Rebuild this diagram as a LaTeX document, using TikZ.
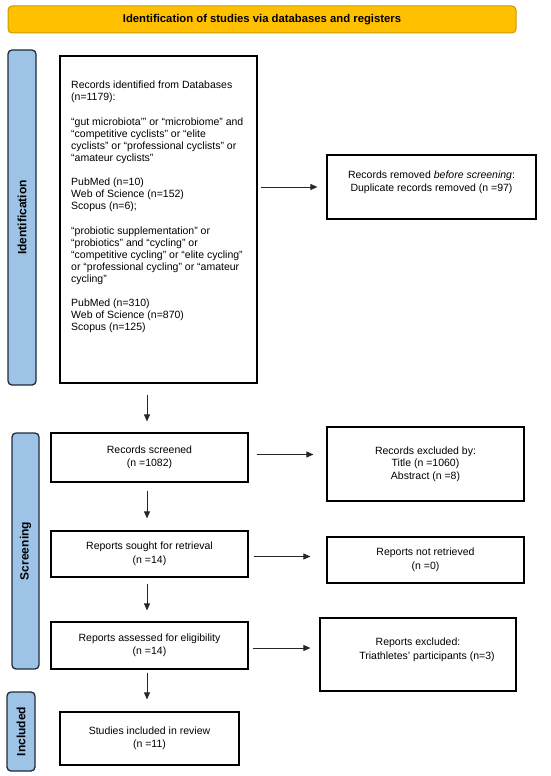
\documentclass[tikz,border=0pt]{standalone}
\usepackage{fontspec}
\setmainfont{Liberation Sans}
\usetikzlibrary{arrows.meta,calc}
\definecolor{hdrfill}{HTML}{FFC000}
\definecolor{hdrline}{HTML}{C99A00}
\definecolor{barfill}{HTML}{9DC3E6}
\definecolor{barline}{HTML}{1F2B3A}
\begin{document}
\begin{tikzpicture}[x=1pt,y=-1pt,
  box/.style={draw=black, line width=1.2pt, fill=white, inner sep=0pt,
    font=\fontsize{10.5}{13.5}\selectfont, align=center},
  txt/.style={font=\fontsize{10.5}{13.5}\selectfont, align=center, inner sep=0pt},
  sidebar/.style={draw=barline, fill=barfill, line width=1.3pt, rounded corners=4pt, inner sep=0pt},
  sidelabel/.style={font=\fontsize{12}{14}\selectfont\bfseries, rotate=90, inner sep=0pt},
  arr/.style={draw=black!85, line width=0.8pt, -{Triangle[length=7pt,width=6pt]}},
]
\useasboundingbox (0,0) rectangle (550,776);

% header
\node[draw=hdrline, fill=hdrfill, line width=1pt, rounded corners=4pt,
  minimum width=508pt, minimum height=27pt, inner sep=0pt,
  font=\fontsize{11.3}{13}\selectfont\bfseries] (hdr) at (262,19.5)
  {Identification of studies via databases and registers};

% side bars
\node[sidebar, minimum width=28pt, minimum height=335pt] (idbar) at (22,217.5) {};
\node[sidelabel] (idlab) at (idbar.center) {Identification};
\node[sidebar, minimum width=27pt, minimum height=236pt] (scbar) at (25.5,551) {};
\node[sidelabel] (sclab) at (scbar.center) {Screening};
\node[sidebar, minimum width=28pt, minimum height=79pt] (inbar) at (21,731.5) {};
\node[sidelabel] (inlab) at (inbar.center) {Included};

% identification
\node[box, minimum width=197pt, minimum height=327pt] (main) at (158.5,219.5) {};
\node[txt, align=left, anchor=north west, font=\fontsize{10.5}{12}\selectfont] (maintxt) at (71,81) {%
Records identified from Databases\\
(n=1179):\\[12.5pt]
“gut microbiota’” or “microbiome” and\\
“competitive cyclists” or “elite\\
cyclists” or “professional cyclists” or\\
“amateur cyclists”\\[12.5pt]
PubMed (n=10)\\
Web of Science (n=152)\\
Scopus (n=6);\\[12.5pt]
“probiotic supplementation” or\\
“probiotics” and “cycling” or\\
“competitive cycling” or “elite cycling”\\
or “professional cycling” or “amateur\\
cycling”\\[12.5pt]
PubMed (n=310)\\
Web of Science (n=870)\\
Scopus (n=125)};

\node[box, minimum width=209pt, minimum height=64pt] (rem) at (431.5,187) {};
\node[txt] (remtxt) at (431.5,182.5) {Records removed \textit{before screening}:\\Duplicate records removed (n =97)};

% screening
\node[box, minimum width=197pt, minimum height=49pt] (scr) at (149.5,457.5) {Records screened\\(n =1082)};
\node[box, minimum width=197pt, minimum height=74pt, font=\fontsize{10.5}{12.5}\selectfont] (excl) at (425.5,464) {Records excluded by:\\Title (n =1060)\\Abstract (n =8)};
\node[box, minimum width=197pt, minimum height=46pt] (sought) at (149.5,554) {Reports sought for retrieval\\(n =14)};
\node[box, minimum width=197pt, minimum height=46pt] (notret) at (425.5,560) {Reports not retrieved\\(n =0)};
\node[box, minimum width=197pt, minimum height=47pt] (ass) at (149.5,645.5) {Reports assessed for eligibility\\(n =14)};
\node[box, minimum width=196pt, minimum height=73pt] (exclu) at (418,654.5) {};
\node[txt] (exclutxt) at (418,650) {Reports excluded:\\\hspace*{18pt}Triathletes’ participants (n=3)};

% included
\node[box, minimum width=179pt, minimum height=53pt] (stud) at (149.5,738.5) {Studies included in review\\(n =11)};

% arrows
\draw[arr] ([xshift=3pt]main.east |- rem.west) -- ([xshift=-9pt]rem.west);
\draw[arr] ([xshift=-2.5pt,yshift=-11pt]scr.north |- main.south) -- ([xshift=-2.5pt,yshift=11pt]scr.north);
\draw[arr] ([xshift=8pt,yshift=3pt]scr.east) -- ([xshift=-13pt,yshift=3pt]excl.west |- scr.east);
\draw[arr] ([xshift=-2.5pt,yshift=-8pt]scr.south) -- ([xshift=-2.5pt,yshift=12pt]sought.north);
\draw[arr] ([xshift=5pt,yshift=-2.5pt]sought.east) -- ([xshift=-16pt,yshift=-2.5pt]notret.west |- sought.east);
\draw[arr] ([xshift=-2.5pt,yshift=-6pt]sought.south) -- ([xshift=-2.5pt,yshift=11pt]ass.north);
\draw[arr] ([xshift=4pt,yshift=-2.5pt]ass.east) -- ([xshift=-9pt,yshift=-2.5pt]exclu.west |- ass.east);
\draw[arr] ([xshift=-2.5pt,yshift=-3pt]ass.south) -- ([xshift=-2.5pt,yshift=12pt]stud.north);
\end{tikzpicture}
\end{document}
